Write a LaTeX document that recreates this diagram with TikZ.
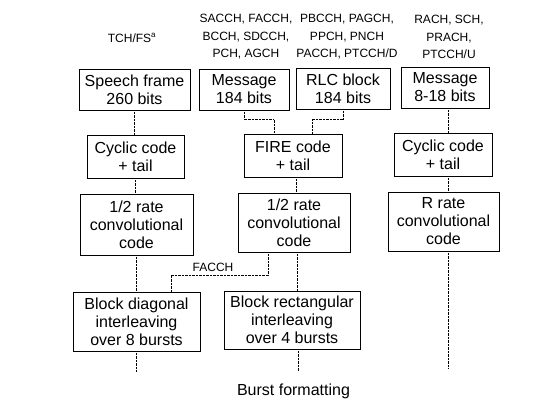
\documentclass[tikz,border=0pt]{standalone}
\usepackage{fontspec}
\setmainfont{Liberation Sans}
\begin{document}
\begin{tikzpicture}[x=1pt, y=-1pt,
    box/.style={draw, line width=0.9pt, align=center, inner sep=0pt,
        font=\fontsize{16}{18}\selectfont},
    chan/.style={align=center, font=\fontsize{12}{17.5}\selectfont},
    link/.style={line width=0.9pt, dash pattern=on 0.9pt off 0.5pt}]
    \useasboundingbox (0,0) rectangle (554,403);

    % Channel names
    \node[chan] (tchlbl) at (132,38) {TCH/FS$^{\mathrm{a}}$};
    \node[chan] (ctllbl) at (246,37) {SACCH, FACCH,\\BCCH, SDCCH,\\PCH, AGCH};
    \node[chan] (pktlbl) at (347,37) {PBCCH, PAGCH,\\PPCH, PNCH\\PACCH, PTCCH/D};
    \node[chan] (acclbl) at (449,37) {RACH, SCH,\\PRACH,\\PTCCH/U};

    % Input blocks
    \node[box, minimum width=111, minimum height=41] (speech) at (134.5,89.5) {Speech frame\\260 bits};
    \node[box, minimum width=90, minimum height=41] (msgA) at (244,89.5) {Message\\184 bits};
    \node[box, minimum width=94, minimum height=41] (rlc) at (343,88.5) {RLC block\\184 bits};
    \node[box, minimum width=88, minimum height=41] (msgB) at (445,87.5) {Message\\8-18 bits};

    % Block codes
    \node[box, minimum width=97, minimum height=43] (cycA) at (135.5,156.5) {Cyclic code\\+ tail};
    \node[box, minimum width=98, minimum height=43] (fire) at (293,155.5) {FIRE code\\+ tail};
    \node[box, minimum width=98, minimum height=43] (cycB) at (443,154.5) {Cyclic code\\+ tail};

    % Convolutional codes
    \node[box, minimum width=113, minimum height=61] (convA) at (136.5,224.5) {1/2 rate\\convolutional\\code};
    \node[box, minimum width=112, minimum height=59] (convB) at (294,222.5) {1/2 rate\\convolutional\\code};
    \node[box, minimum width=111, minimum height=59] (convC) at (443.5,221.5) {R rate\\convolutional\\code};

    % Interleaving
    \node[box, minimum width=127, minimum height=59] (diag) at (136.5,321.5) {Block diagonal\\interleaving\\over 8 bursts};
    \node[box, minimum width=136, minimum height=58] (rect) at (292,320) {Block rectangular\\interleaving\\over 4 bursts};

    % Burst formatting
    \node[font=\fontsize{16}{18}\selectfont] (burst) at (293.5,391) {Burst formatting};
    \coordinate (endA) at (134,372);
    \coordinate (endB) at (298,371);
    \coordinate (endC) at (448,369);

    % Speech path
    \draw[link] (speech.south) -- (speech.south |- cycA.north);
    \draw[link] (cycA.south) -- (cycA.south |- convA.north);
    \draw[link] (convA.south) -- (convA.south |- diag.north);
    \draw[link] (diag.south) -- (diag.south |- endA);

    % Signalling path
    \draw[link] (msgA.south) -- ++(0,9) -| ([xshift=-19pt]fire.north);
    \draw[link] (rlc.south) -- ++(0,10) -| ([xshift=19pt]fire.north);
    \draw[link] ([xshift=3pt]fire.south) -- ([xshift=3pt]fire.south |- convB.north);
    \draw[link] ([xshift=3pt]convB.south) -- ([xshift=3pt]convB.south |- rect.north);
    \draw[link] (rect.south -| endB) -- (endB);

    % FACCH branch
    \coordinate (facch) at (171,275);
    \draw[link] ([xshift=-26pt]convB.south) |- (facch) -- (facch |- diag.north);
    \node[chan] (facchlbl) at (213,267) {FACCH};

    % Access path
    \draw[link] (msgB.south -| endC) -- (cycB.north -| endC);
    \draw[link] (cycB.south -| endC) -- (convC.north -| endC);
    \draw[link] (convC.south -| endC) -- (endC);
\end{tikzpicture}
\end{document}
